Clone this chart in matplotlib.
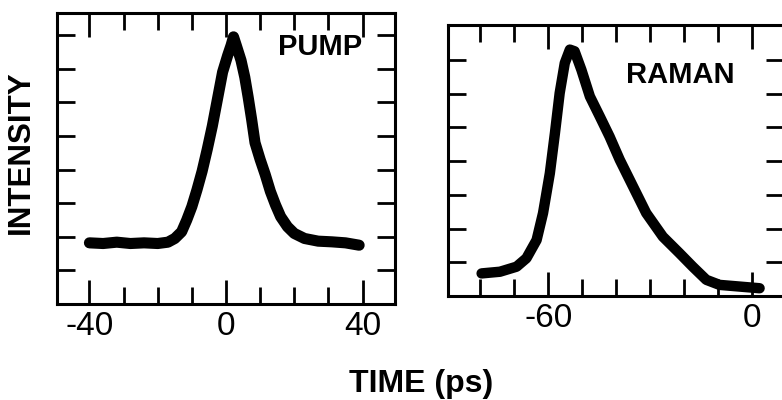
import matplotlib.pyplot as plt
import numpy as np

plt.rcParams['font.family'] = 'Liberation Sans'

# pump pulse
pump_t = [-40, -36, -32, -28, -24, -20, -17, -15, -13, -11.5, -10, -8.5, -7, -5.5,
          -4, -2.5, -1, 0.5, 1.5, 2.2, 3, 4.4, 5.5, 6.5, 7.5, 8.5, 10, 11.5, 13,
          14.5, 16, 18, 20, 23, 27, 31, 35, 39]
pump_i = [1.82, 1.80, 1.84, 1.80, 1.82, 1.80, 1.84, 1.95, 2.15, 2.5, 2.9, 3.4, 3.95, 4.6,
          5.3, 6.1, 6.9, 7.4, 7.7, 7.95, 7.7, 7.25, 6.75, 6.15, 5.5, 4.8, 4.3, 3.85, 3.35,
          2.95, 2.6, 2.3, 2.1, 1.95, 1.87, 1.85, 1.82, 1.75]

# raman pulse
raman_t = [-79.6, -74.2, -69.3, -66.4, -63.4, -61.5, -59.5, -58, -56.6, -55.1, -53.6,
           -52.2, -50.2, -47.7, -44.8, -41.9, -38.9, -35, -31.1, -26.2, -21.3, -17.4,
           -13.4, -9.5, -3.6, 2.3]
raman_i = [0.67, 0.72, 0.87, 1.12, 1.66, 2.46, 3.64, 4.83, 6.02, 6.91, 7.31,
           7.26, 6.71, 5.92, 5.33, 4.73, 4.04, 3.25, 2.46, 1.76, 1.27, 0.87,
           0.48, 0.33, 0.28, 0.23]

pump_major = [-40, 0, 40]
pump_minor = np.arange(-40, 41, 10)
raman_major = [-60, 0]
raman_minor = np.arange(-80, 1, 10)

fig = plt.figure(figsize=(7.82, 4.0), dpi=100)
ax1 = fig.add_axes([0.0729, 0.24, 0.4322, 0.7275])
ax2 = fig.add_axes([0.5729, 0.26, 0.4297, 0.6775])


def style(ax, major, minor, nticks):
    for s in ax.spines.values():
        s.set_linewidth(2.2)
    ax.set_xticks(major)
    ax.set_xticks(minor, minor=True)
    ax.set_yticks(np.arange(1, nticks + 1))
    ax.set_yticklabels([])
    ax.tick_params(axis='both', which='both', direction='in', top=True, right=True,
                   width=2.0)
    ax.tick_params(axis='x', which='major', length=17, labelsize=24, pad=5)
    ax.tick_params(axis='x', which='minor', length=12)
    ax.tick_params(axis='y', which='major', length=13)
    ax.set_xticklabels(['-' + str(abs(v)) if v < 0 else str(v) for v in major])


ax1.plot(pump_t, pump_i, color='black', lw=8, solid_capstyle='round',
         solid_joinstyle='round')
ax1.set_xlim(-49.5, 49.5)
ax1.set_ylim(0, 8.66)
style(ax1, pump_major, pump_minor, 8)
ax1.text(0.655, 0.855, 'PUMP', transform=ax1.transAxes, fontsize=21,
         fontweight='bold')

ax2.plot(raman_t, raman_i, color='black', lw=7.5, solid_capstyle='round',
         solid_joinstyle='round')
ax2.set_xlim(-89.5, 9.5)
ax2.set_ylim(0, 8.04)
style(ax2, raman_major, raman_minor, 7)
ax2.text(0.53, 0.785, 'RAMAN', transform=ax2.transAxes, fontsize=21,
         fontweight='bold')

fig.text(0.027, 0.62, 'INTENSITY', rotation=90, ha='center', va='center',
         fontsize=22.5, fontweight='bold')
fig.text(0.538, 0.04, 'TIME (ps)', ha='center', va='center', fontsize=23,
         fontweight='bold')

fig.savefig('out.png', dpi=100, facecolor='white')
